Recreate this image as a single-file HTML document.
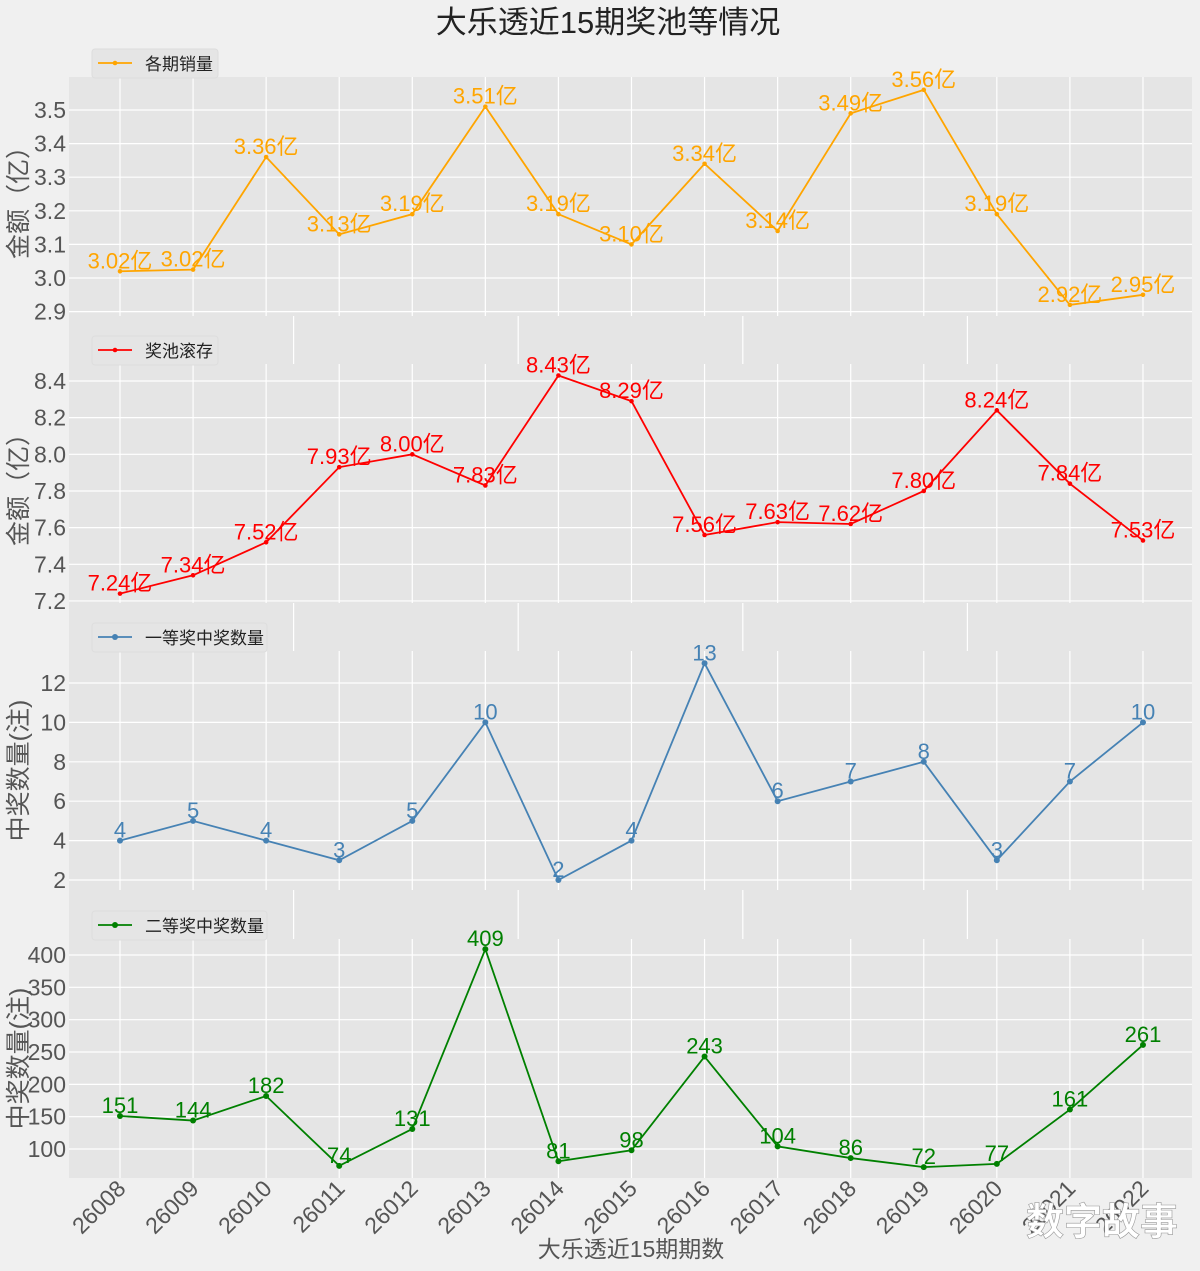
<!DOCTYPE html>
<html><head><meta charset="utf-8">
<style>
body{margin:0;background:#f0f0f0;}
svg text{font-family:"Liberation Sans","Noto Sans CJK SC",sans-serif;}
</style></head>
<body>
<svg id="c" width="1200" height="1266" xmlns="http://www.w3.org/2000/svg">
<rect width="1200" height="1266" fill="#f0f0f0"/>
<text x="608" y="33" font-size="31" text-anchor="middle" fill="#222">大乐透近15期奖池等情况</text>
<text x="631" y="1257" font-size="23" text-anchor="middle" fill="#555">大乐透近15期期数</text>
<g id="plots"></g>
<text x="1102" y="1235" font-size="38" font-weight="bold" text-anchor="middle" fill="#fff" stroke="#999" stroke-width="0.6">数字故事</text>
</svg>
<script>
const categories=["26008","26009","26010","26011","26012","26013","26014","26015","26016","26017","26018","26019","26020","26021","26022"];
const sales=[3.02,3.025,3.36,3.13,3.19,3.51,3.19,3.10,3.34,3.14,3.49,3.56,3.19,2.92,2.95];
const pool=[7.24,7.34,7.52,7.93,8.00,7.83,8.43,8.29,7.56,7.63,7.62,7.80,8.24,7.84,7.53];
const firstPrize=[4,5,4,3,5,10,2,4,13,6,7,8,3,7,10];
const secondPrize=[151,144,182,74,131,409,81,98,243,104,86,72,77,161,261];
const salesTicks=[2.9,3.0,3.1,3.2,3.3,3.4,3.5];
const poolTicks=[7.2,7.4,7.6,7.8,8.0,8.2,8.4];
const firstTicks=[2,4,6,8,10,12];
const secondTicks=[100,150,200,250,300,350,400];
const NS="http://www.w3.org/2000/svg";
const g=document.getElementById('plots');
function el(t,a,p){const e=document.createElementNS(NS,t);for(const k in a)e.setAttribute(k,a[k]);(p||g).appendChild(e);return e;}
const L=69,R=1192;
const xs=i=>120+i*73.07;
const bg=el('rect',{x:L,y:77,width:R-L,height:1101,fill:'#e5e5e5'});


[0.2,0.4,0.6,0.8].forEach(f=>{el('line',{x1:L+f*(R-L),x2:L+f*(R-L),y1:77,y2:1178,stroke:'#fff','stroke-width':1.2});});
const panels=[
 {top:77,data:sales,ticks:salesTicks,v0:3.0,y0:278,k:336,color:'orange',leg:'各期销量',ylab:'金额（亿）',fmt:v=>v.toFixed(2)+'亿',mk:'star',dec:1,name:'sales'},
 {top:364,data:pool,ticks:poolTicks,v0:8.4,y0:381,k:183.3,color:'red',leg:'奖池滚存',ylab:'金额（亿）',fmt:v=>v.toFixed(2)+'亿',mk:'star',dec:1,name:'pool'},
 {top:651,data:firstPrize,ticks:firstTicks,v0:12,y0:683,k:19.7,color:'#4682b4',leg:'一等奖中奖数量',ylab:'中奖数量(注)',fmt:v=>String(v),mk:'circle',dec:0,name:'first-prize'},
 {top:939,data:secondPrize,ticks:secondTicks,v0:400,y0:955,k:0.6467,color:'green',leg:'二等奖中奖数量',ylab:'中奖数量(注)',fmt:v=>String(Math.round(v)),mk:'circle',dec:0,name:'second-prize'}
];
panels.forEach(p=>{
 const H=239,bot=p.top+H;
 const ys=v=>p.y0+(p.v0-v)*p.k;
 const pg=el('g',{});
 
 
 el('rect',{x:L,y:p.top,width:R-L,height:H,fill:'#e5e5e5'},pg);
 p.ticks.forEach(t=>{const y=ys(t);
  el('line',{x1:L,x2:R,y1:y,y2:y,stroke:'#fff','stroke-width':1.2},pg);
  const tx=el('text',{x:66,y:y+8,'font-size':23,'text-anchor':'end',fill:'#555'},pg);
  tx.textContent=p.dec?t.toFixed(1):String(t);
  
  
 });
 categories.forEach((c,i)=>{el('line',{x1:xs(i),x2:xs(i),y1:p.top,y2:bot,stroke:'#fff','stroke-width':1.2},pg);});
 const yl=el('text',{x:0,y:0,'font-size':25,'text-anchor':'middle',fill:'#555',transform:`translate(27,${p.top+H/2}) rotate(-90)`},pg);
 yl.textContent=p.ylab;
 
 
 const pts=p.data.map((v,i)=>xs(i)+','+ys(v)).join(' ');
 const line=el('polyline',{points:pts,fill:'none',stroke:p.color,'stroke-width':1.8},pg);
 
 
 p.data.forEach((v,i)=>{
  const x=xs(i),y=ys(v);
  const m=el('circle',{cx:x,cy:y,r:p.mk=='star'?2.3:3,fill:p.color},pg);
  
  
  const t=el('text',{x:x,y:y-3,'font-size':22,'text-anchor':'middle',fill:p.color},pg);
  t.textContent=p.fmt(v);
  
  
 });
 const lg=el('g',{},pg);
 
 
 const w=p.leg.length>4?175:126;
 el('rect',{x:92,y:p.top-28,width:w,height:29,rx:3,fill:'#e5e5e5',stroke:'#ddd'},lg);
 el('line',{x1:98,x2:132,y1:p.top-14,y2:p.top-14,stroke:p.color,'stroke-width':1.8},lg);
 el('circle',{cx:115,cy:p.top-14,r:p.mk=='star'?2.3:3,fill:p.color},lg);
 const lt=el('text',{x:145,y:p.top-7,'font-size':17,fill:'#222'},lg);
 lt.textContent=p.leg;
});
categories.forEach((c,i)=>{
 const t=el('text',{x:0,y:0,'font-size':23,'text-anchor':'end',fill:'#555',transform:`translate(${xs(i)+7},${1190}) rotate(-45)`});
 t.textContent=c;
 
 
});
</script>
</body></html>
